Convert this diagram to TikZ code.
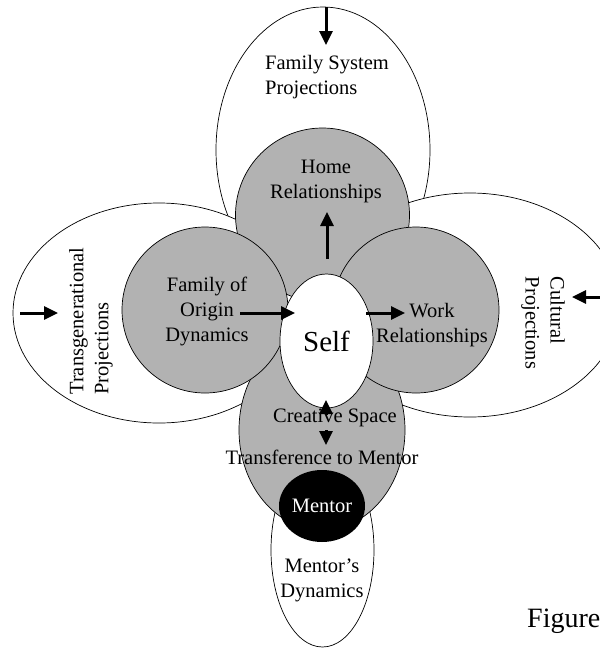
\documentclass[tikz,border=0pt]{standalone}
\usepackage{fontspec}
\setmainfont{Liberation Serif}
\usetikzlibrary{shapes.geometric,arrows.meta}

\begin{document}
\begin{tikzpicture}[x=1pt, y=-1pt,
    proj/.style={ellipse, draw, line width=0.7pt, fill=white, inner sep=0pt},
    sphere/.style={circle, draw, line width=0.7pt, fill=black!30, inner sep=0pt},
    lbl/.style={align=center, font=\fontsize{20.5}{25}\selectfont, inner sep=0pt},
    arr/.style={line width=3pt, -{Triangle[length=14pt,width=13pt]}}]
  \clip (0,0) rectangle (600,649);

  % outer projections
  \node[proj, minimum width=214pt, minimum height=286pt] (famsys) at (323,150) {};
  \node[proj, minimum width=292pt, minimum height=220pt] (transgen) at (159,313) {};
  \node[proj, minimum width=300pt, minimum height=224pt] (cultural) at (470,305) {};
  \node[proj, minimum width=103pt, minimum height=194pt] (mdyn) at (322.5,550) {};

  % relationships
  \node[ellipse, draw, line width=0.7pt, fill=black!30, inner sep=0pt,
        minimum width=166pt, minimum height=200pt] (creative) at (322,430) {};
  \node[sphere, minimum size=174pt] (home) at (322.5,215) {};
  \node[sphere, minimum size=166pt] (origin) at (205,310) {};
  \node[sphere, minimum size=166pt] (work) at (416,310) {};

  % self and mentor
  \node[proj, minimum width=93pt, minimum height=134pt,
        font=\fontsize{29}{32}\selectfont] (self) at (326.5,341) {Self};
  \node[ellipse, fill=black, text=white, inner sep=0pt, minimum width=86pt,
        minimum height=72pt, font=\fontsize{20.5}{25}\selectfont] (mentor) at (322,506) {Mentor};

  \coordinate (fsA) at (326,7);    \coordinate (fsB) at (326,45);
  \coordinate (tgA) at (20,313);   \coordinate (tgB) at (58,313);
  \coordinate (cuA) at (600,297);  \coordinate (cuB) at (572,297);
  \coordinate (hmA) at (327,259);  \coordinate (hmB) at (327,212);
  \coordinate (orA) at (240,313);  \coordinate (orB) at (295,313);
  \coordinate (wkA) at (366,313);  \coordinate (wkB) at (405,313);
  \coordinate (crA) at (326,415);  \coordinate (crB) at (326,400);
  \coordinate (crC) at (326,430);  \coordinate (crD) at (326,445);

  \draw[arr] (fsA) -- (fsB);
  \draw[arr] (tgA) -- (tgB);
  \draw[arr] (cuA) -- (cuB);
  \draw[arr] (hmA) -- (hmB);
  \draw[arr] (orA) -- (orB);
  \draw[arr] (wkA) -- (wkB);
  \draw[arr] (crA) -- (crB);
  \draw[arr] (crC) -- (crD);

  \node[lbl, align=left] (famsysT) at (327,77) {Family System\\Projections};
  \node[lbl] (homeT) at (326,181) {Home\\Relationships};
  \node[lbl] (originT) at (207,311) {Family of\\Origin\\Dynamics};
  \node[lbl] (workT) at (432,325) {Work\\Relationships};
  \node[lbl, align=left, rotate=90] (transT) at (91,321) {Transgenerational\\Projections};
  \node[lbl, align=left, rotate=-90] (cultT) at (543,323) {Cultural\\Projections};
  \node[lbl] (creatT) at (335,418) {Creative Space};
  \node[lbl] (transfT) at (322,457) {Transference to Mentor};
  \node[lbl] (mdynT) at (322,580) {Mentor’s\\Dynamics};
  \node[font=\fontsize{28}{32}\selectfont, anchor=base west, inner sep=0pt] (fig) at (527,627) {Figure};
\end{tikzpicture}
\end{document}
